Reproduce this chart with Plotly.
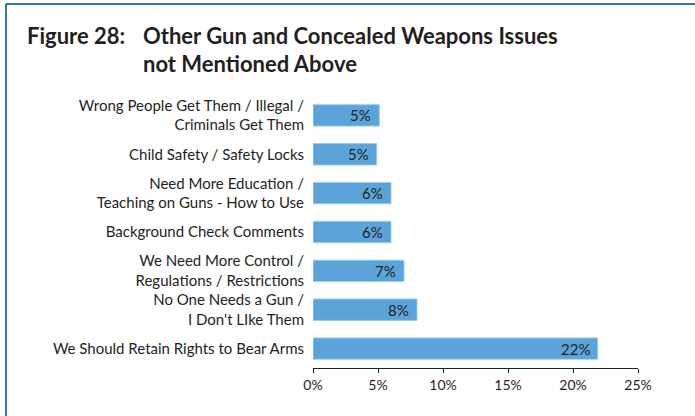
import plotly.graph_objects as go

categories = [
    "Wrong People Get Them / Illegal /<br>Criminals Get Them",
    "Child Safety / Safety Locks",
    "Need More Education /<br>Teaching on Guns - How to Use",
    "Background Check Comments",
    "We Need More Control /<br>Regulations / Restrictions",
    "No One Needs a Gun /<br>I Don't LIke Them",
    "We Should Retain Rights to Bear Arms",
]
values = [5.1, 4.9, 6.0, 6.0, 7.0, 8.0, 21.9]
value_labels = ["5%", "5%", "6%", "6%", "7%", "8%", "22%"]
tick_vals = [0, 5, 10, 15, 20, 25]
tick_text = ["0%", "5%", "10%", "15%", "20%", "25%"]

FONT = "Lato"
TXT = "#231f20"

fig = go.Figure(
    go.Bar(
        x=values,
        y=categories,
        orientation="h",
        marker=dict(color="#5aa4da", line=dict(color="#9ccbee", width=1)),
        width=0.55,
        hoverinfo="skip",
    )
)

W, H = 695, 416
L, R, T, B = 313, 57, 96, 48
pw, ph = W - L - R, H - T - B

def px(x):
    return (x - L) / pw

def py(y):
    return 1 - (y - T) / ph

annotations = [
    dict(text=lab, x=v, y=c, xref="x", yref="y", xanchor="right", yanchor="middle",
         xshift=-6, showarrow=False, font=dict(family=FONT, size=15, color=TXT))
    for c, v, lab in zip(categories, values, value_labels)
]
annotations += [
    dict(text="<b>Figure 28:</b>", xref="paper", yref="paper", x=px(25), y=py(36),
         xanchor="left", yanchor="middle", showarrow=False,
         font=dict(family=FONT, size=22, color=TXT)),
    dict(text="<b>Other Gun and Concealed Weapons Issues</b>", xref="paper", yref="paper",
         x=px(141), y=py(36), xanchor="left", yanchor="middle", showarrow=False,
         font=dict(family=FONT, size=22, color=TXT)),
    dict(text="<b>not Mentioned Above</b>", xref="paper", yref="paper",
         x=px(141), y=py(63), xanchor="left", yanchor="middle", showarrow=False,
         font=dict(family=FONT, size=22, color=TXT)),
]

fig.update_layout(
    width=W,
    height=H,
    margin=dict(l=L, r=R, t=T, b=B),
    paper_bgcolor="white",
    plot_bgcolor="white",
    showlegend=False,
    font=dict(family=FONT, color=TXT, size=15),
    xaxis=dict(
        range=[0, 25],
        tickvals=tick_vals,
        ticktext=tick_text,
        showgrid=False,
        zeroline=False,
        showline=True,
        linecolor="#231f20",
        linewidth=1,
        ticks="outside",
        ticklen=4,
        tickcolor="#231f20",
        tickfont=dict(family=FONT, size=14, color=TXT),
        fixedrange=True,
    ),
    yaxis=dict(
        autorange="reversed",
        showgrid=False,
        showline=False,
        ticks="",
        ticklabelstandoff=8,
        tickfont=dict(family=FONT, size=15, color=TXT),
        fixedrange=True,
    ),
    shapes=[
        dict(type="line", xref="paper", yref="paper", x0=px(6), x1=px(6), y0=py(4), y1=py(420),
             line=dict(color="#2b7ca3", width=2)),
        dict(type="line", xref="paper", yref="paper", x0=px(6), x1=px(700), y0=py(4), y1=py(4),
             line=dict(color="#2b7ca3", width=2)),
    ],
    annotations=annotations,
)

fig.write_html(
    "out.html",
    config={"displayModeBar": False},
    post_script="document.body.style.margin='0';document.body.style.overflow='hidden';",
)
